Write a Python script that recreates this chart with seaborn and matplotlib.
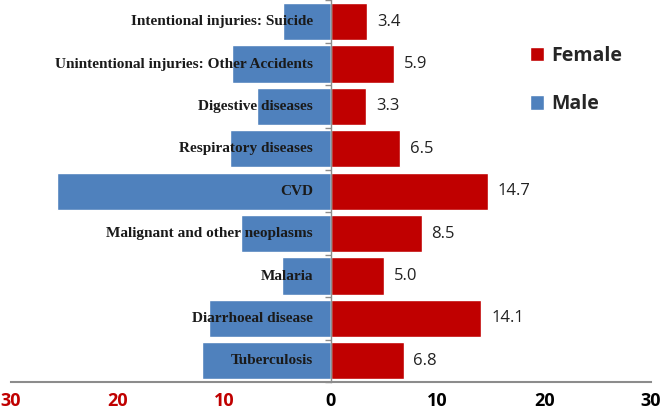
import numpy as np
import pandas as pd
import matplotlib
matplotlib.use("Agg")
import matplotlib.pyplot as plt
import seaborn as sns

causes = ['Intentional injuries: Suicide', 'Unintentional injuries: Other Accidents',
          'Digestive diseases', 'Respiratory diseases', 'CVD',
          'Malignant and other neoplasms', 'Malaria', 'Diarrhoeal disease', 'Tuberculosis']
female = [3.4, 5.9, 3.3, 6.5, 14.7, 8.5, 5.0, 14.1, 6.8]
male = [4.5, 9.3, 6.9, 9.5, 25.7, 8.4, 4.6, 11.4, 12.1]
xticks = [-30, -20, -10, 0, 10, 20, 30]

RED = '#C00000'
BLUE = '#4F81BD'

sns.set_style('white')
plt.rcParams['font.family'] = ['Open Sans', 'DejaVu Sans']

df = pd.DataFrame({'cause': causes, 'female': female, 'male': [-m for m in male]})

fig = plt.figure(figsize=(6.64, 4.13), dpi=100)
ax = fig.add_axes([11 / 664, 1 - 382 / 413, 640 / 664, 382 / 413])

sns.barplot(data=df, y='cause', x='male', color=BLUE, saturation=1, width=0.88,
            label='Male', ax=ax, orient='h')
sns.barplot(data=df, y='cause', x='female', color=RED, saturation=1, width=0.88,
            label='Female', ax=ax, orient='h')

# value labels on female bars
ax.bar_label(ax.containers[1], fmt='%.1f', padding=7, fontsize=12, color='#222222')

# category names next to zero
for i, c in enumerate(causes):
    ax.text(-1.7, i, c, ha='right', va='center', fontsize=11, fontweight='bold',
            family='Liberation Serif', color='#1a1a1a')

ax.set_xlim(-30, 30)
ax.set_ylim(len(causes) - 0.51, -0.51)
ax.set_xticks(xticks)
ax.set_xticklabels([str(abs(t)) for t in xticks], fontsize=13, fontweight='bold')
for lab, t in zip(ax.get_xticklabels(), xticks):
    lab.set_color(RED if t < 0 else 'black')
ax.tick_params(axis='x', direction='out', length=5, width=1.2, color='#8c8c8c', pad=2)

# y axis sits at zero with small boundary ticks
ax.spines['left'].set_position(('data', 0))
ax.spines['left'].set_color('#8c8c8c')
ax.spines['left'].set_linewidth(1)
ax.set_yticks(np.arange(-0.5, len(causes), 1))
ax.set_yticklabels([])
ax.tick_params(axis='y', direction='out', length=4, width=1, color='#8c8c8c', left=True)
ax.spines['bottom'].set_color('#8c8c8c')
ax.spines['bottom'].set_linewidth(1.5)
ax.spines['top'].set_visible(False)
ax.spines['right'].set_visible(False)
ax.set_xlabel('')
ax.set_ylabel('')

handles, labels = ax.get_legend_handles_labels()
order = [labels.index('Female'), labels.index('Male')]
ax.legend([handles[k] for k in order], [labels[k] for k in order],
          loc='upper left', bbox_to_anchor=(0.783, 0.925), frameon=False,
          prop={'weight': 'bold', 'size': 14}, handlelength=0.75, handleheight=0.75,
          handletextpad=0.35, labelspacing=1.45)

fig.savefig('out.png', dpi=100)
